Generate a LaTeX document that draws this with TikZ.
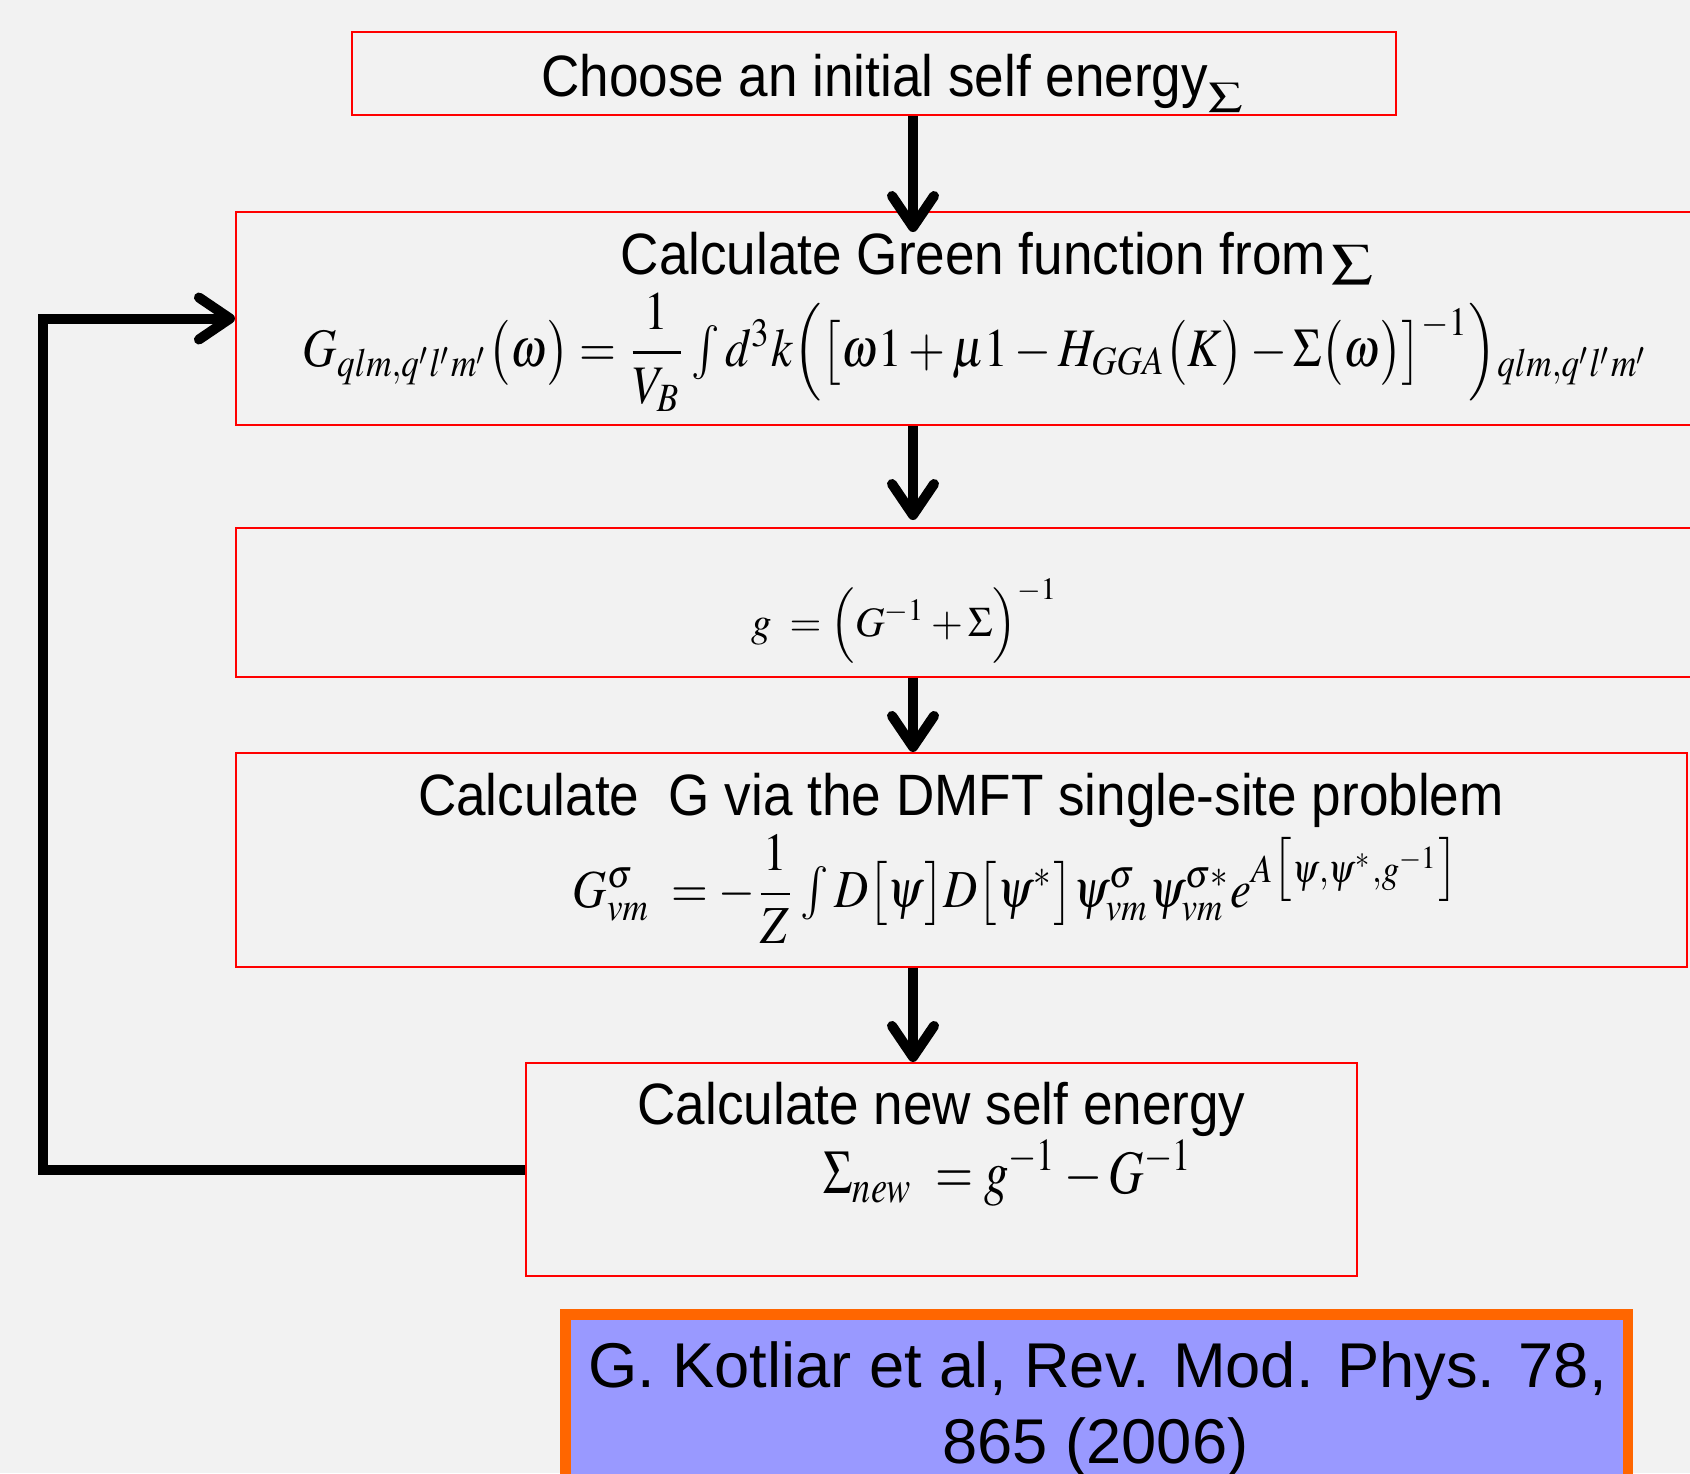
\documentclass[tikz,border=0pt]{standalone}
\usepackage{amsmath}
\usepackage{mathptmx}
\usepackage[no-math]{fontspec}
\setmainfont{Liberation Sans}
\usepackage{graphicx}
\usetikzlibrary{arrows.meta}
\definecolor{bgcol}{HTML}{F2F2F2}
\definecolor{boxred}{HTML}{FF0000}
\definecolor{citeorange}{HTML}{FF6600}
\definecolor{citefill}{HTML}{9999FF}
\newcommand{\boxtext}[1]{\scalebox{0.91}[1]{\fontsize{16.6}{20}\selectfont #1}}
\newcommand{\sumsign}[3]{\raisebox{#3}{\resizebox*{#1}{#2}{$\sum$}}}
\begin{document}
\begin{tikzpicture}[x=0.1mm,y=-0.1mm,
  flowbox/.style={draw=boxred, line width=0.6pt, inner sep=0pt},
  arr/.style={line width=2.85pt, -{Straight Barb[length=3.1mm,width=4.2mm,round]}},
  txt/.style={anchor=base, inner sep=0pt},
  citebox/.style={draw=citeorange, line width=3pt, fill=citefill, inner sep=0pt}]
\useasboundingbox (0,0) rectangle (1690,1473);
\fill[bgcol] (0,0) rectangle (1690,1473);
\begin{scope}
\clip (0,0) rectangle (1690,1473);
% boxes
\node[flowbox, minimum width=104.4mm, minimum height=8.3mm] (b1) at (874,73.5) {};
\node[flowbox, minimum width=146.4mm, minimum height=21.3mm] (b2) at (968,318.5) {};
\node[flowbox, minimum width=146.4mm, minimum height=14.9mm] (b3) at (968,602.5) {};
\node[flowbox, minimum width=145.1mm, minimum height=21.4mm] (b4) at (961.5,860) {};
\node[flowbox, minimum width=83.1mm, minimum height=21.3mm] (b5) at (941.5,1169.5) {};
\node[citebox, minimum width=106.25mm, minimum height=16.5mm] (c) at (1096.75,1397) {};
% texts
\node[txt] (t1) at (892,96) {\boxtext{Choose an initial self energy\sumsign{3.8mm}{2.9mm}{-1.0mm}}};
\node[txt] (t2) at (997,274) {\boxtext{Calculate Green function from\kern0.6mm\sumsign{4.6mm}{3.9mm}{-0.2mm}}};
\node[txt] (e2) at (976,366) {\resizebox{134.6mm}{7.3mm}{$G_{qlm,q'l'm'}\bigl(\omega\bigr)=\dfrac{1}{V_{B}}\int d^{3}k\Bigl(\bigl[\omega 1+\mu 1-H_{GGA}\bigl(K\bigr)-\Sigma\bigl(\omega\bigr)\bigr]^{-1}\Bigr){}_{qlm,q'l'm'}$}};
\node[txt] (e3) at (904.5,636) {\resizebox{30.7mm}{5.7mm}{$g\;=\Bigl(G^{-1}+\Sigma\Bigr)^{-1}$}};
\node[txt] (t4) at (961,815) {\boxtext{Calculate\ \ G via the DMFT single-site problem}};
\node[txt] (e4) at (1016.5,907) {\resizebox{88.7mm}{7.2mm}{$G^{\sigma}_{vm}\;=-\dfrac{1}{Z}\int D\bigl[\psi\bigr]D\bigl[\psi^{*}\bigr]\psi^{\sigma}_{vm}\psi^{\sigma *}_{vm}e^{A\bigl[\psi,\psi^{*},g^{-1}\bigr]}$}};
\node[txt] (t5) at (941.5,1124) {\boxtext{Calculate new self energy}};
\node[txt] (e5) at (1008.5,1193) {\resizebox{36.9mm}{5.3mm}{$\Sigma_{new}\;=g^{-1}-G^{-1}$}};
\node[txt] (c1) at (1097.5,1387) {\fontsize{18}{21.6}\selectfont G. Kotliar et al, Rev. Mod. Phys. 78,};
\node[txt] (c2) at (1095.5,1463) {\fontsize{18}{21.6}\selectfont 865 (2006)};
% arrows
\coordinate (ax) at (913,0);
\coordinate (tip1) at (913,232);
\coordinate (tip2) at (913,520);
\coordinate (corner) at (43,1169.5);
\draw[arr] (b1.south -| ax) -- (tip1);
\draw[arr] (b2.south -| ax) -- (tip2);
\draw[arr] (b3.south -| ax) -- (b4.north -| ax);
\draw[arr] (b4.south -| ax) -- (b5.north -| ax);
\draw[arr] (b5.west) -- (corner) |- (b2.west);
\end{scope}
\end{tikzpicture}
\end{document}
